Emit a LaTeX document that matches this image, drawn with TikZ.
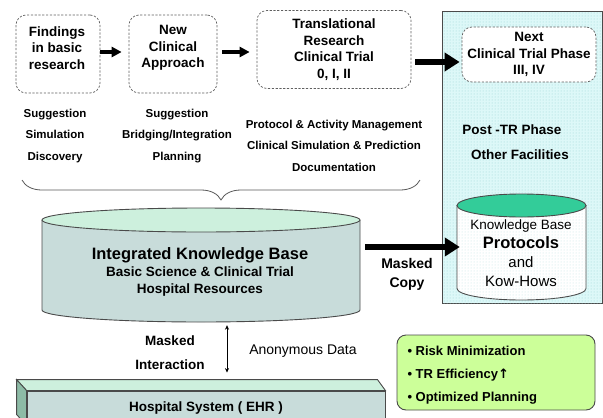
\documentclass[tikz,border=0pt]{standalone}
\usepackage{fontspec}
\setmainfont{Liberation Sans}
\newfontfamily\arrowfont{DejaVu Sans}
\usetikzlibrary{arrows.meta,decorations.pathreplacing,patterns,calc}
\definecolor{kbgray}{HTML}{C8DCDA}
\definecolor{kbmint}{HTML}{CDF0DD}
\definecolor{kbside}{HTML}{8DBBA6}
\definecolor{kbteal}{HTML}{33CC99}
\definecolor{panelcyan}{HTML}{DDF8F8}
\definecolor{paneldot}{HTML}{98D4D4}
\definecolor{gainsgreen}{HTML}{CCFF99}
\definecolor{rimgray}{HTML}{4A4A4A}

\tikzset{
  stagebox/.style={draw=gray!75!black, dash pattern=on 2.2pt off 1.6pt, line width=0.7pt, rounded corners=10pt, fill=white},
  stagetext/.style={align=center, font=\bfseries\fontsize{13.5}{16.5}\selectfont},
  tasktext/.style={align=center, font=\bfseries\fontsize{11.5}{21.5}\selectfont},
  plaintext/.style={align=center, font=\bfseries\fontsize{13.5}{16}\selectfont},
  flowarrow/.style={line width=3.6pt, -{Triangle[length=10pt,width=10pt]}},
  bigarrow/.style={line width=6pt, -{Triangle[length=15pt,width=18pt]}},
  dataarrow/.style={line width=0.6pt, {Stealth[length=4.5pt,width=4pt]}-{Stealth[length=4.5pt,width=4pt]}},
  rim/.style={draw=rimgray, line width=0.9pt},
}

\begin{document}
\begin{tikzpicture}[x=1pt,y=-1pt]
\useasboundingbox (0,0) rectangle (603,418);

% post-TR panel
\filldraw[rim, fill=panelcyan, postaction={pattern=dots, pattern color=paneldot}] (442,11) rectangle (602,303);
\node[stagebox, minimum width=134pt, minimum height=55pt] (next) at (529,54.5) {};
\node[stagetext] (nexttext) at (529,54.5) {Next\\Clinical Trial Phase\\III, IV};
\node[plaintext] (posttr) at (512,130) {Post -TR Phase};
\node[plaintext] (facilities) at (520,155) {Other Facilities};

% research stages
\node[stagebox, minimum width=84pt, minimum height=78pt] (find) at (58,54) {};
\node[stagetext] (findtext) at (57,48) {Findings\\in basic\\research};
\node[stagebox, minimum width=88pt, minimum height=78pt] (approach) at (173,54) {};
\node[stagetext] (approachtext) at (173,48) {New\\Clinical\\Approach};
\node[stagebox, minimum width=154pt, minimum height=78pt] (trial) at (334,49.5) {};
\node[stagetext] (trialtext) at (334,49.5) {Translational\\Research\\Clinical Trial\\0, I, II};

\draw[flowarrow, shorten >=7pt] (find.east |- 0,52) -- (approach.west |- 0,52);
\draw[flowarrow, shorten <=5pt, shorten >=7pt] (approach.east |- 0,52) -- (trial.west |- 0,52);
\draw[bigarrow, shorten <=4pt, shorten >=2pt] (trial.east |- 0,62) -- (next.west |- 0,62);

\node[tasktext] (basictasks) at (55,136) {Suggestion\\Simulation\\Discovery};
\node[tasktext] (approachtasks) at (177,136) {Suggestion\\Bridging/Integration\\Planning};
\node[tasktext] (trialtasks) at (334,145.5) {Protocol \& Activity Management\\Clinical Simulation \& Prediction\\Documentation};

\draw[gray!70!black, line width=0.8pt, decorate, decoration={brace, mirror, amplitude=20pt}] (22,180) -- (420,180);

% integrated knowledge base
\node[minimum width=318pt, minimum height=114pt] (ikb) at (201,265) {};
\fill[kbgray] (42,220) -- (42,310) arc[start angle=180, end angle=360, x radius=159pt, y radius=12pt] -- (360,220) -- cycle;
\draw[rim] (42,220) -- (42,310) arc[start angle=180, end angle=360, x radius=159pt, y radius=12pt] -- (360,220);
\filldraw[rim, fill=kbmint] (201,220) ellipse [x radius=159pt, y radius=12pt];
\node[align=center, font=\bfseries\fontsize{13.5}{17}\selectfont] (ikbtext) at (200,272)
  {{\fontsize{16.5}{18}\selectfont Integrated Knowledge Base}\\Basic Science \& Clinical Trial\\Hospital Resources};

% protocols knowledge base
\node[minimum width=129pt, minimum height=106pt] (kb) at (521.5,247) {};
\filldraw[rim, fill=white, postaction={pattern=dots, pattern color=paneldot!60}] (457,205.5) -- (457,288.5) arc[start angle=180, end angle=360, x radius=64.5pt, y radius=11.5pt] -- (586,205.5) -- cycle;
\filldraw[rim, fill=kbteal] (521.5,205.5) ellipse [x radius=64.5pt, y radius=11.5pt];
\node[align=center, font=\fontsize{15}{19}\selectfont] (kbtext) at (521,253)
  {{\fontsize{13.5}{19}\selectfont Knowledge Base}\\{\bfseries\fontsize{16.5}{19}\selectfont Protocols}\\and\\Kow-Hows};

\draw[bigarrow, shorten <=5pt, shorten >=-3pt] (ikb.east |- 0,247) -- (kb.west);
\node[align=center, font=\bfseries\fontsize{14}{19}\selectfont] (copytext) at (407,274.5) {Masked\\Copy};

% hospital system
\node[rim, fill=kbgray, minimum width=358pt, minimum height=34pt, font=\bfseries\fontsize{13.5}{16}\selectfont] (ehr) at (206,408) {Hospital System ( EHR )};
\filldraw[rim, fill=kbmint] (ehr.north west) -- ++(-10,-11) -- ($(ehr.north east)+(-8,-11)$) -- (ehr.north east) -- cycle;
\filldraw[rim, fill=kbside] (ehr.north west) -- ++(-10,-11) -- ($(ehr.south west)+(-10,-11)$) -- (ehr.south west) -- cycle;

\draw[dataarrow, shorten <=3pt, shorten >=18pt] (ikb.south -| 227,0) -- (ehr.north -| 227,0);
\node[align=center, font=\bfseries\fontsize{13.5}{24}\selectfont] (interact) at (170,353) {Masked\\Interaction};
\node[font=\fontsize{14}{16}\selectfont] (anon) at (303,351) {Anonymous Data};

% expected gains
\node[rim, fill=gainsgreen, rounded corners=9pt, minimum width=198pt, minimum height=75pt] (gainsbox) at (496,372.5) {};
\node[anchor=west, align=left, font=\bfseries\fontsize{13}{23}\selectfont] (gains) at (404,375)
  {• Risk Minimization\\• TR Efficiency{\arrowfont ↑}\\• Optimized Planning};

%\caption{Translational research flow}
\end{tikzpicture}
\end{document}
